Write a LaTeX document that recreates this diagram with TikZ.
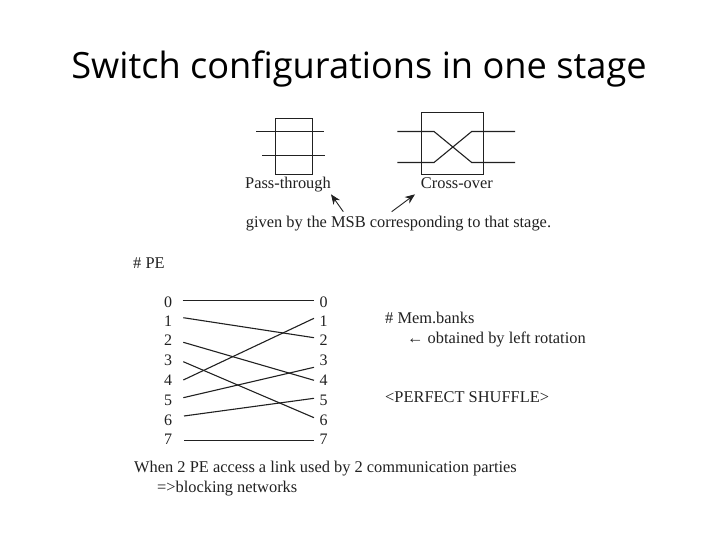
\documentclass[tikz,border=0pt]{standalone}
\usepackage{fontspec}
\setmainfont{Liberation Serif}
\newfontfamily\titlefont{Open Sans}
\usetikzlibrary{arrows.meta}
\definecolor{ink}{gray}{0.13}
\tikzset{
  wire/.style={draw=ink,line width=1.1pt},
  boxshape/.style={draw=ink,line width=1.1pt,fill=none,inner sep=0pt},
  lbl/.style={inner sep=0pt,text=ink,anchor=base west,font=\fontsize{16.4}{18}\selectfont},
  num/.style={inner sep=0pt,text=ink,anchor=base,font=\fontsize{16}{18}\selectfont},
  pointer/.style={draw=ink,line width=0.9pt,-{Stealth[length=10pt,width=8pt]}},
  ttl/.style={inner sep=0pt,text=black,anchor=base,font=\titlefont\fontsize{36.2}{40}\selectfont}
}
\begin{document}
\begin{tikzpicture}[x=1pt,y=-1pt]
\fill[white] (0,0) rectangle (720,540);
\useasboundingbox (0,0) rectangle (720,540);
\node[ttl] (title) at (359,79) {Switch configurations in one stage};
% pass-through switch
\node[boxshape,minimum width=37pt,minimum height=56pt] (pt) at (294,146.5) {};
\coordinate (pa) at (256,131.5); \coordinate (pb) at (323.5,131.5);
\coordinate (pc) at (262.3,155.5); \coordinate (pd) at (324.7,155.5);
\draw[wire] (pa) -- (pb);
\draw[wire] (pc) -- (pd);
% cross-over switch
\node[boxshape,minimum width=62pt,minimum height=62pt] (co) at (452.5,143.5) {};
\coordinate (ca) at (397.3,131.5); \coordinate (cb) at (434,131.5);
\coordinate (cc) at (471.7,162.5); \coordinate (cd) at (515,162.5);
\coordinate (ce) at (397.3,162.5); \coordinate (cf) at (434,162.5);
\coordinate (cg) at (471.7,131.5); \coordinate (ch) at (515,131.5);
\draw[wire] (ca) -- (cb) -- (cc) -- (cd);
\draw[wire] (ce) -- (cf) -- (cg) -- (ch);
% labels
\node[lbl] (ptl) at (245,188.5) {Pass-through};
\node[lbl] (col) at (420.7,188.5) {Cross-over};
\node[lbl] (msb) at (245.7,227.5) {given by the MSB corresponding to that stage.};
\coordinate (a1s) at (343.3,211.7); \coordinate (a1e) at (331,194.3);
\coordinate (a2s) at (391.7,211.7); \coordinate (a2e) at (415,194.3);
\draw[pointer] (a1s) -- (a1e);
\draw[pointer] (a2s) -- (a2e);
\node[lbl] (pe) at (133,268.5) {\# PE};
% numbers
\foreach \n/\y in {0/307,1/326,2/345.5,3/365,4/385,5/405,6/425,7/444}{
  \node[num] (l\n) at (168,\y) {\n};
  \node[num] (r\n) at (323.5,\y) {\n};
}
% shuffle wires
\coordinate (s0) at (182.7,300.5); \coordinate (e0) at (314,300.5);
\coordinate (s1) at (183.3,317.7); \coordinate (e1) at (314,337.7);
\coordinate (s2) at (183.3,342.3); \coordinate (e2) at (314,380.3);
\coordinate (s3) at (183.3,361.7); \coordinate (e3) at (314,417.7);
\coordinate (s4) at (183.3,380);   \coordinate (e4) at (314,318.3);
\coordinate (s5) at (183.3,397.7); \coordinate (e5) at (314,367.3);
\coordinate (s6) at (184,416);     \coordinate (e6) at (314,398.3);
\coordinate (s7) at (184,440.5);   \coordinate (e7) at (314,440.5);
\foreach \n in {0,...,7}{\draw[wire] (s\n) -- (e\n);}
% notes
\node[lbl] (mem) at (385,323.7) {\# Mem.banks};
\node[lbl] (rot) at (407,343.5) {← obtained by left rotation};
\node[lbl] (ps) at (385,402.5) {<PERFECT SHUFFLE>};
\node[lbl] (w1) at (134,472.5) {When 2 PE access a link used by 2 communication parties};
\node[lbl] (w2) at (157,492.5) {=>blocking networks};
\end{tikzpicture}
\end{document}
